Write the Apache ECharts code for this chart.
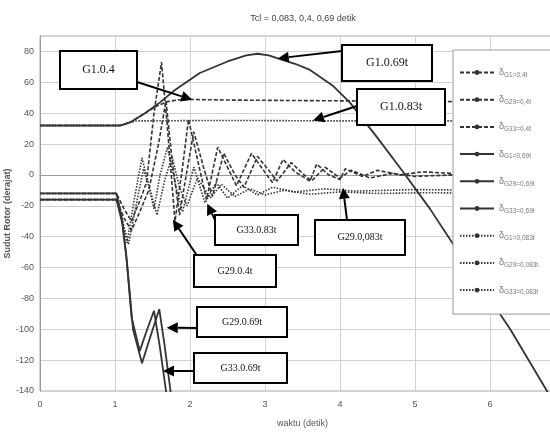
<!DOCTYPE html>
<html>
<head>
<meta charset="utf-8">
<script src="https://cdn.jsdelivr.net/npm/echarts@6/dist/echarts.min.js"></script>
<style>html,body{margin:0;padding:0;background:#fff;}#c{width:550px;height:432px;}</style>
</head>
<body>
<div id="c"></div>
<script>
// ---- Data (time in s, rotor angle in degrees) ----
const titleText = 'Tcl = 0,083, 0,4, 0,69 detik';
const xName = 'waktu (detik)';
const yName = 'Sudut Rotor (derajat)';
const xTicks = [0, 1, 2, 3, 4, 5, 6, 7];
const yTicks = [-140, -120, -100, -80, -60, -40, -20, 0, 20, 40, 60, 80];

const seriesNames = [
  'G1=0,4t', 'G29=0,4t', 'G33=0,4t',
  'G1=0,69t', 'G29=0,69t', 'G33=0,69t',
  'G1=0,083t', 'G29=0,083t', 'G33=0,083t'
];

const g1_04 = [[0,32],[1.07,32],[1.2,34],[1.4,40],[1.55,44.5],[1.7,47.5],[1.9,49],[2.5,48.5],[4,48],[5.5,47.5],[7,47]];
const g29_04 = [[0,-12],[1.02,-12],[1.12,-22],[1.22,-30],[1.32,-18],[1.42,-5],[1.52,40],[1.62,73],[1.7,30],[1.8,-30],[1.9,5],[1.98,36],[2.1,10],[2.22,-16],[2.37,18],[2.5,5],[2.62,-7],[2.82,14],[2.95,5],[3.1,-5],[3.24,10],[3.4,2],[3.6,-4],[3.69,7],[3.85,0],[4.0,-3],[4.07,4],[4.3,-1],[4.5,3],[4.8,0],[5.1,2],[5.5,1],[6,2],[7,2]];
const g33_04 = [[0,-16],[1.02,-16],[1.12,-28],[1.22,-36],[1.32,-25],[1.45,-10],[1.58,20],[1.68,48],[1.76,10],[1.86,-26],[1.95,0],[2.05,28],[2.18,5],[2.3,-14],[2.45,14],[2.6,0],[2.72,-8],[2.9,12],[3.05,3],[3.16,-4],[3.35,8],[3.5,1],[3.62,-4],[3.8,5],[4.0,-2],[4.15,3],[4.4,-2],[4.7,1],[5,-1],[5.5,0],[6,-1],[7,-1]];

const g1_069 = [[0,32],[1.07,32],[1.2,34],[1.4,40],[1.6,47],[1.8,55],[2.13,66],[2.5,73.5],[2.75,77.5],[2.9,78.5],[3.05,77.5],[3.2,75],[3.4,72],[3.6,68],[3.9,58],[4.13,47],[4.5,24],[4.84,2],[5.2,-22],[5.47,-42],[5.8,-66],[6.27,-100],[6.76,-140],[7,-160]];
const g29_069 = [[0,-12],[1.02,-12],[1.09,-28],[1.15,-52],[1.22,-92],[1.33,-114],[1.43,-100],[1.52,-88],[1.6,-112],[1.68,-140],[1.74,-170]];
const g33_069 = [[0,-16],[1.02,-16],[1.1,-32],[1.16,-57],[1.24,-100],[1.36,-122],[1.47,-105],[1.59,-87],[1.66,-110],[1.74,-140],[1.8,-170]];

const g1_0083 = [[0,32],[1.07,32],[1.15,33.5],[1.3,35],[2.5,35.3],[4,35],[7,35]];
const g29_0083 = [[0,-12],[1.02,-12],[1.08,-25],[1.16,-44],[1.26,-15],[1.36,11],[1.44,-5],[1.52,-22],[1.6,0],[1.7,18],[1.8,-5],[1.9,-24],[2.05,5],[2.2,-18],[2.35,-5],[2.5,-15],[2.7,-7],[2.9,-13],[3.1,-8],[3.4,-11],[3.8,-9],[4.2,-10.5],[5,-9.5],[6,-10],[7,-10]];
const g33_0083 = [[0,-16],[1.02,-16],[1.1,-30],[1.18,-45],[1.28,-20],[1.38,4],[1.47,-10],[1.56,-26],[1.66,-4],[1.76,12],[1.86,-8],[1.96,-20],[2.1,-2],[2.27,-15],[2.42,-6],[2.6,-14],[2.8,-9],[3.0,-13],[3.25,-10],[3.6,-12.5],[4.0,-11],[4.5,-12],[5.2,-11.5],[6,-12],[7,-12]];

const seriesData = [g1_04, g29_04, g33_04, g1_069, g29_069, g33_069, g1_0083, g29_0083, g33_0083];

// annotation callouts: label, tip [t, deg], box [x,y,w,h], arrow start [x,y], font size
const notes = [
  { label: 'G1.0.4',     tip: [2.03, 48.7],  box: [60, 51, 77, 38],  from: [137, 82],  fs: 12 },
  { label: 'G1.0.69t',   tip: [3.17, 75.5],  box: [342, 45, 90, 36], from: [342, 51],  fs: 12 },
  { label: 'G1.0.83t',   tip: [3.64, 35.3],  box: [357, 89, 88, 36], from: [357, 106], fs: 12 },
  { label: 'G33.0.83t',  tip: [2.23, -18.7], box: [215, 215, 83, 30], from: [216, 222], fs: 10 },
  { label: 'G29.0.4t',   tip: [1.77, -29],   box: [194, 255, 82, 32], from: [198, 257], fs: 10 },
  { label: 'G29.0.69t',  tip: [1.69, -99],   box: [197, 307, 90, 30], from: [197, 328], fs: 10 },
  { label: 'G33.0.69t',  tip: [1.64, -127],  box: [194, 353, 93, 30], from: [194, 371], fs: 10 },
  { label: 'G29.0,083t', tip: [4.04, -8.3],  box: [315, 220, 90, 35], from: [347, 220], fs: 10 }
];

const styleKind = ['dash','dash','dash','solid','solid','solid','dot','dot','dot'];

const chart = echarts.init(document.getElementById('c'), null, { renderer: 'canvas' });

const lineColor = '#333';
const series = seriesData.map((d, i) => {
  const k = styleKind[i];
  return {
    name: seriesNames[i],
    type: 'line',
    data: d,
    showSymbol: false,
    symbol: k === 'solid' ? 'none' : 'circle',
    symbolSize: 4,
    itemStyle: { color: lineColor },
    lineStyle: {
      color: lineColor,
      width: k === 'solid' ? 1.8 : 1.6,
      type: k === 'solid' ? 'solid' : (k === 'dash' ? [4, 2] : [1.5, 1.5])
    },
    smooth: false,
    clip: true,
    z: 2
  };
});

const narrow = "'Liberation Sans Narrow', 'Liberation Sans', Arial, sans-serif";

chart.setOption({
  animation: false,
  backgroundColor: '#fff',
  title: {
    text: titleText,
    left: 298,
    top: 9,
    textAlign: 'center',
    textStyle: { fontFamily: narrow, fontSize: 9, fontWeight: 'normal', color: '#444' }
  },
  grid: {
    left: 40, top: 36, width: 525, height: 355,
    outerBoundsMode: 'none', containLabel: false,
    show: true, borderColor: '#aaa', borderWidth: 1, backgroundColor: 'transparent'
  },
  legend: {
    orient: 'vertical',
    left: 453, top: 50,
    data: seriesNames,
    itemWidth: 34, itemHeight: 6, itemGap: 16.7,
    padding: [18, 30, 18, 6],
    backgroundColor: '#fff',
    borderColor: '#999', borderWidth: 1,
    formatter: n => '{d|δ}{s|' + n + '}',
    textStyle: {
      color: '#666', fontFamily: narrow,
      rich: {
        d: { fontSize: 9, color: '#777', fontFamily: narrow },
        s: { fontSize: 6.5, color: '#777', fontFamily: narrow, padding: [5, 0, 0, 0] }
      }
    },
    selectedMode: false
  },
  xAxis: {
    type: 'value', min: xTicks[0], max: xTicks[xTicks.length - 1], interval: 1,
    name: xName, nameLocation: 'middle', nameGap: 28, nameMoveOverlap: false,
    nameTextStyle: { fontFamily: narrow, fontSize: 9, color: '#555' },
    axisLine: { show: true, lineStyle: { color: '#999' } },
    axisTick: { show: false },
    axisLabel: { fontFamily: narrow, fontSize: 9, color: '#555', margin: 9 },
    splitLine: { show: true, lineStyle: { color: '#d0d0d0', width: 1 } }
  },
  yAxis: {
    type: 'value', min: yTicks[0], max: 90, interval: 20,
    name: yName, nameLocation: 'middle', nameGap: 28, nameMoveOverlap: false,
    nameTextStyle: { fontFamily: narrow, fontSize: 9, color: '#555', fontWeight: 'bold' },
    axisLine: { show: true, lineStyle: { color: '#999' } },
    axisTick: { show: false },
    axisLabel: { fontFamily: narrow, fontSize: 9, color: '#555', margin: 6, showMaxLabel: false },
    splitLine: { show: true, lineStyle: { color: '#d0d0d0', width: 1 } }
  },
  series: series
});

// build callout annotations (arrow tips located through the chart's own scales)
const graphics = [];
notes.forEach((n, i) => {
  const tip = chart.convertToPixel({ gridIndex: 0 }, n.tip);
  const sx = n.from[0], sy = n.from[1];
  const dx = tip[0] - sx, dy = tip[1] - sy;
  const len = Math.sqrt(dx * dx + dy * dy);
  const ux = dx / len, uy = dy / len;
  const headL = 11, headW = 5.5;
  const bx = tip[0] - ux * headL, by = tip[1] - uy * headL;
  graphics.push({
    type: 'line', z: 100,
    shape: { x1: sx, y1: sy, x2: bx, y2: by },
    style: { stroke: '#000', lineWidth: 2 }
  });
  graphics.push({
    type: 'polygon', z: 100,
    shape: { points: [[tip[0], tip[1]], [bx - uy * headW, by + ux * headW], [bx + uy * headW, by - ux * headW]] },
    style: { fill: '#000' }
  });
  const b = n.box;
  graphics.push({
    type: 'rect', z: 101,
    shape: { x: b[0], y: b[1], width: b[2], height: b[3] },
    style: { fill: '#fff', stroke: '#000', lineWidth: 2 }
  });
  graphics.push({
    type: 'text', z: 102,
    style: {
      text: n.label, x: b[0] + b[2] / 2, y: b[1] + b[3] / 2,
      align: 'center', verticalAlign: 'middle',
      fontFamily: "'Liberation Serif', 'DejaVu Serif', serif", fontSize: n.fs, fill: '#111'
    }
  });
});
chart.setOption({ graphic: graphics });
</script>
</body>
</html>
